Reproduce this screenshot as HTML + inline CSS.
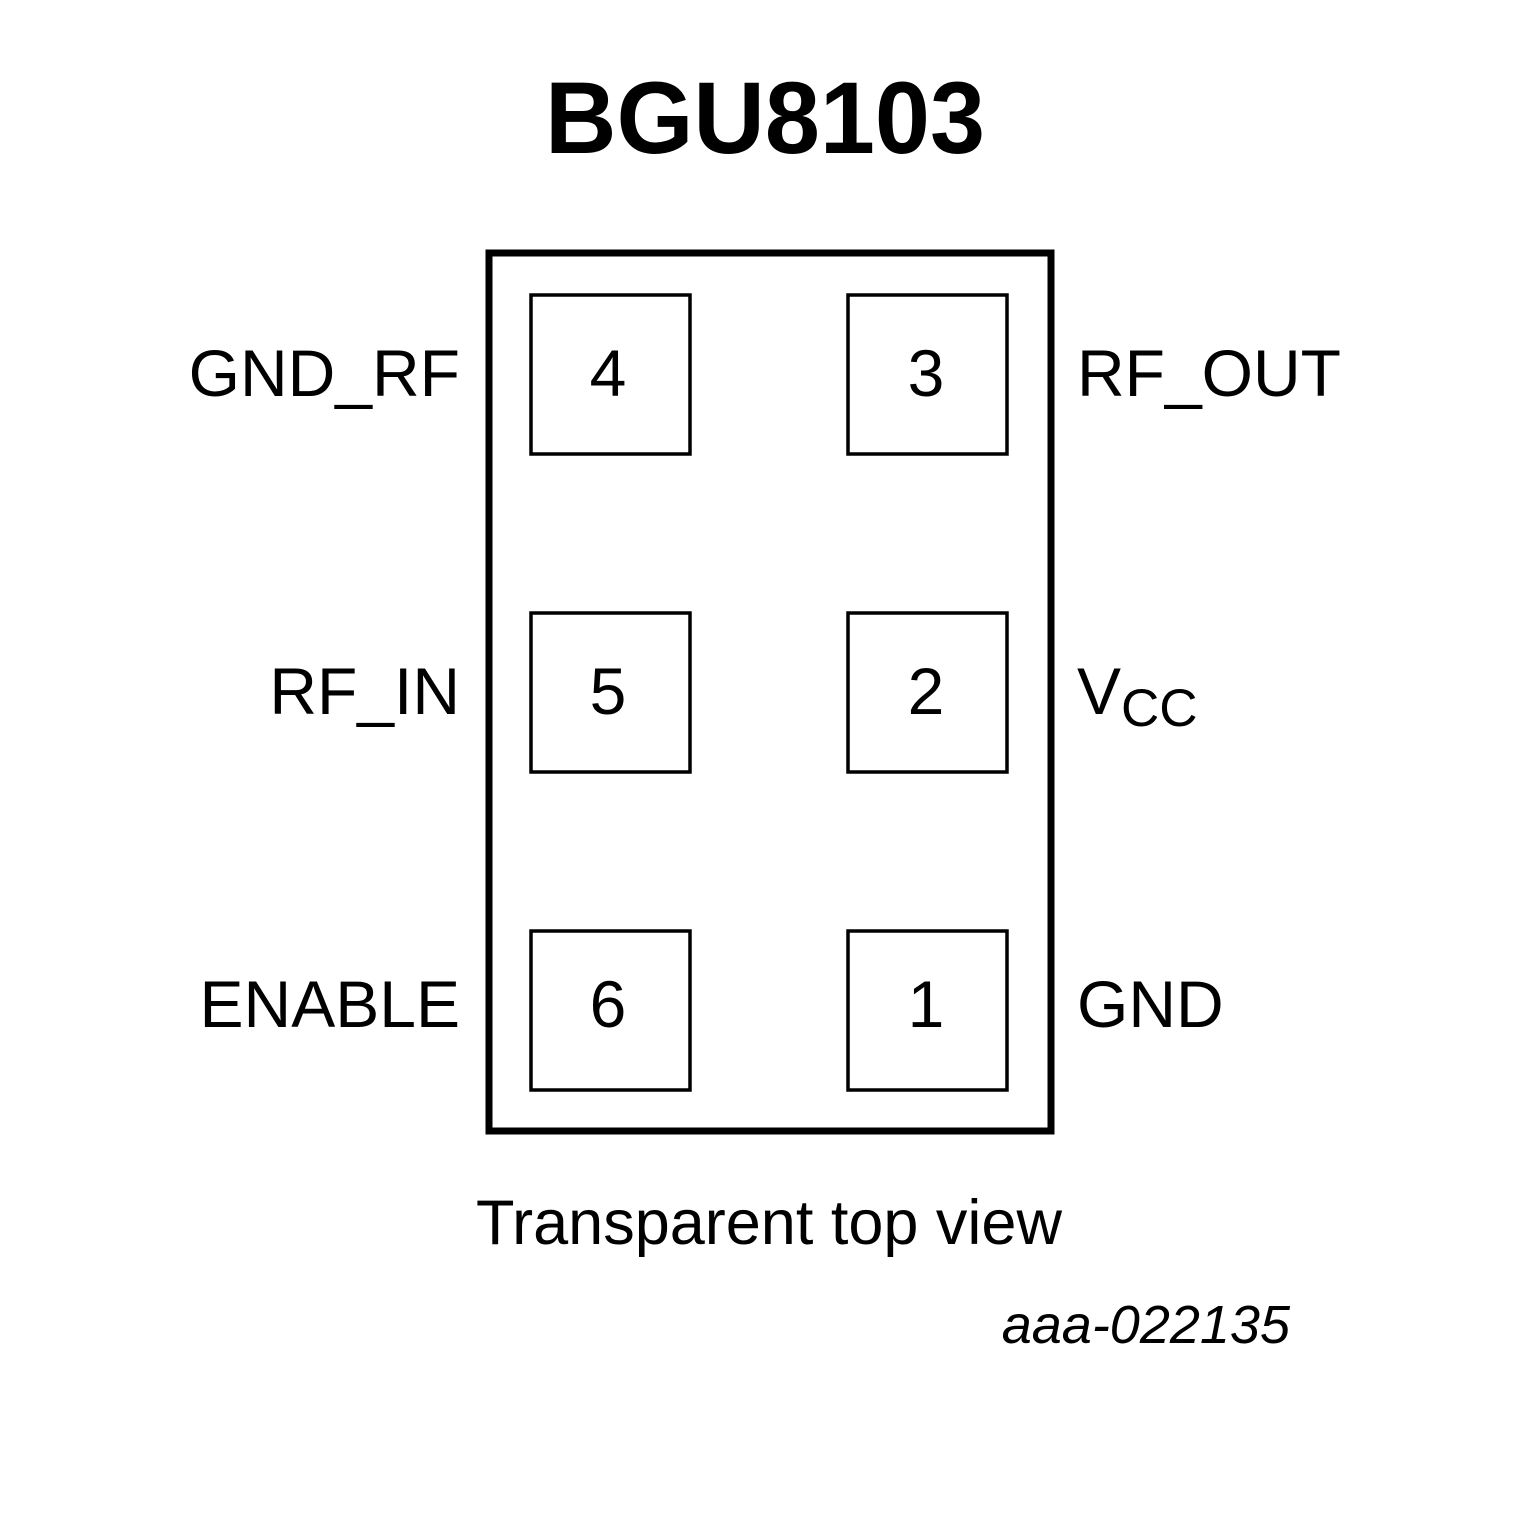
<!DOCTYPE html>
<html><head><style>html,body{margin:0;padding:0;background:#fff}</style></head>
<body>
<svg width="1535" height="1535" viewBox="0 0 1535 1535" xmlns="http://www.w3.org/2000/svg" font-family="Liberation Sans, sans-serif">
<rect width="1535" height="1535" fill="#fff"/>
<text x="765" y="153" font-size="102" font-weight="bold" text-anchor="middle" textLength="440" lengthAdjust="spacingAndGlyphs">BGU8103</text>
<rect x="489" y="253" width="562" height="878" fill="none" stroke="#000" stroke-width="7"/>
<g fill="none" stroke="#000" stroke-width="3.5">
<rect x="531" y="295" width="159" height="159"/>
<rect x="848" y="295" width="159" height="159"/>
<rect x="531" y="613" width="159" height="159"/>
<rect x="848" y="613" width="159" height="159"/>
<rect x="531" y="931" width="159" height="159"/>
<rect x="848" y="931" width="159" height="159"/>
</g>
<g font-size="66" text-anchor="middle">
<text x="608" y="396">4</text>
<text x="926" y="396">3</text>
<text x="608" y="714">5</text>
<text x="926" y="714">2</text>
<text x="608" y="1027">6</text>
<text x="926" y="1027">1</text>
</g>
<g font-size="66" text-anchor="end">
<text x="460" y="396">GND_RF</text>
<text x="460" y="714">RF_IN</text>
<text x="460" y="1027">ENABLE</text>
</g>
<g font-size="66">
<text x="1077" y="396">RF_OUT</text>
<text x="1077" y="714">V<tspan font-size="53" dy="12">CC</tspan></text>
<text x="1077" y="1027">GND</text>
</g>
<text x="769" y="1244" font-size="63" text-anchor="middle">Transparent top view</text>
<text x="1290" y="1343" font-size="54" font-style="italic" text-anchor="end">aaa-022135</text>
</svg>
</body></html>
